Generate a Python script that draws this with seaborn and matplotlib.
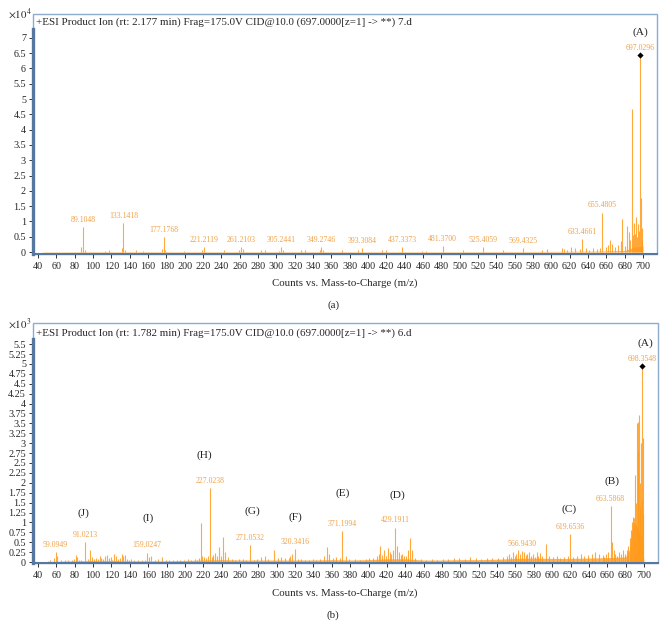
import matplotlib
matplotlib.use("Agg")
import matplotlib.pyplot as plt
from matplotlib.patches import Rectangle
import seaborn as sns

# ---- panel (a): intensities in units of 1e4 counts ----
a_label_mz = [89.1048, 133.1418, 177.1768, 221.2119, 261.2103, 305.2441, 349.2746,
              393.3084, 437.3373, 481.3700, 525.4059, 569.4325, 633.4661, 655.4805, 697.0296]
a_label_int = [0.83, 0.94, 0.48, 0.17, 0.15, 0.16, 0.15,
               0.13, 0.15, 0.20, 0.17, 0.13, 0.42, 1.29, 6.44]

a_minor_mz = [87.0, 91.1, 113.1, 117.0, 131.1, 135.1, 147.0, 155.0, 175.2, 179.1,
              199.0, 219.2, 243.1, 259.2, 263.2, 283.2, 287.2, 303.2, 307.2, 327.2,
              331.2, 347.3, 351.3, 371.3, 389.3, 415.3, 419.3, 459.3, 463.3, 503.4,
              547.4, 589.4, 595.4, 611.4, 613.4, 617.4, 621.4, 625.4, 631.4, 637.4,
              641.5, 645.5, 649.5, 653.5, 659.5, 661.5, 663.8, 666.5, 669.5, 672.5,
              675.5, 677.6, 680.5, 682.5, 684.8, 686.3, 688.0, 689.2, 690.0, 691.2,
              692.9, 694.0, 695.1, 696.0, 697.6, 698.4, 699.2]
a_minor_int = [0.15, 0.05, 0.04, 0.06, 0.12, 0.08, 0.05, 0.04, 0.10, 0.05,
               0.04, 0.05, 0.06, 0.05, 0.10, 0.06, 0.05, 0.04, 0.05, 0.05,
               0.08, 0.05, 0.06, 0.05, 0.05, 0.06, 0.07, 0.04, 0.04, 0.05,
               0.06, 0.06, 0.10, 0.12, 0.10, 0.08, 0.15, 0.12, 0.10, 0.14,
               0.08, 0.12, 0.10, 0.14, 0.15, 0.22, 0.40, 0.25, 0.18, 0.22,
               0.35, 1.08, 0.20, 0.85, 0.67, 0.40, 4.66, 0.55, 0.94, 0.60,
               1.15, 0.50, 0.90, 0.70, 1.77, 0.80, 0.40]

a_base_mz = [45, 100, 200, 300, 400, 500, 600, 650, 680, 690, 700]
a_base_int = [0.01, 0.015, 0.015, 0.015, 0.015, 0.015, 0.02, 0.03, 0.05, 0.15, 0.2]

a_letters = ["(A)"]
a_letter_mz = [697.0]
a_letter_y = [7.17]

# ---- panel (b): intensities in units of 1e3 counts ----
b_label_mz = [59.0949, 91.0213, 159.0247, 227.0238, 271.0532, 320.3416,
              371.1994, 429.1911, 566.9430, 619.6536, 663.5868, 698.3548]
b_label_int = [0.25, 0.51, 0.24, 1.87, 0.42, 0.32,
               0.78, 0.87, 0.27, 0.70, 1.41, 4.96]

b_minor_mz = [51, 53, 57, 61, 65, 69, 73, 77, 79, 81,
              83, 85, 87, 95, 97, 99, 101, 103, 105, 107,
              109, 111, 113, 115, 117, 119, 121, 123, 125, 127,
              129, 131, 133, 135, 137, 139, 141, 145, 149, 153,
              157, 161, 163, 167, 171, 175, 179, 183, 187, 191,
              195, 199, 203, 207, 211, 213, 215, 217, 219, 221,
              223, 225, 229, 231, 233, 235, 237, 239, 242, 244,
              247, 251, 255, 259, 263, 267, 275, 279, 283, 287,
              291, 297, 301, 305, 309, 313, 315, 317, 323, 327,
              331, 335, 339, 343, 347, 351, 355, 357, 361, 365,
              369, 375, 379, 385, 391, 397, 401, 405, 409, 411,
              413, 415, 417, 419, 421, 423, 425, 427, 431, 433,
              435, 437, 439, 441, 443, 445, 447, 451, 457, 463,
              469, 475, 481, 487, 493, 499, 505, 511, 517, 523,
              529, 535, 541, 547, 551, 553, 555, 557, 559, 561,
              563, 565, 569, 571, 573, 575, 577, 579, 581, 583,
              585, 587, 589, 593, 597, 601, 605, 609, 613, 617,
              623, 627, 631, 635, 639, 643, 647, 651, 655, 657,
              659, 661, 665, 667, 669, 671, 673, 675, 677, 679,
              681, 683, 685, 686, 687, 688, 689, 690, 691, 692,
              693, 694, 694.8, 695.5, 696, 697, 697.5, 699, 699.5]
b_minor_int = [0.03, 0.04, 0.10, 0.15, 0.05, 0.04, 0.05, 0.06, 0.08, 0.18,
               0.12, 0.05, 0.06, 0.08, 0.30, 0.12, 0.08, 0.10, 0.07, 0.15,
               0.10, 0.07, 0.16, 0.17, 0.09, 0.12, 0.06, 0.20, 0.15, 0.08,
               0.10, 0.20, 0.14, 0.18, 0.08, 0.06, 0.07, 0.05, 0.04, 0.05,
               0.06, 0.12, 0.15, 0.06, 0.07, 0.12, 0.05, 0.04, 0.04, 0.05,
               0.04, 0.05, 0.08, 0.06, 0.07, 0.06, 0.10, 0.98, 0.15, 0.12,
               0.10, 0.15, 0.12, 0.18, 0.22, 0.15, 0.37, 0.15, 0.63, 0.25,
               0.12, 0.08, 0.06, 0.08, 0.07, 0.06, 0.06, 0.08, 0.12, 0.16,
               0.08, 0.30, 0.10, 0.12, 0.09, 0.10, 0.15, 0.20, 0.08, 0.08,
               0.05, 0.06, 0.07, 0.06, 0.08, 0.15, 0.37, 0.20, 0.10, 0.12,
               0.09, 0.15, 0.08, 0.07, 0.06, 0.07, 0.10, 0.10, 0.15, 0.20,
               0.40, 0.18, 0.30, 0.15, 0.35, 0.25, 0.20, 0.30, 0.40, 0.25,
               0.18, 0.20, 0.15, 0.15, 0.30, 0.60, 0.30, 0.10, 0.07, 0.06,
               0.07, 0.06, 0.08, 0.07, 0.10, 0.10, 0.08, 0.12, 0.10, 0.08,
               0.10, 0.09, 0.10, 0.12, 0.15, 0.20, 0.12, 0.25, 0.15, 0.20,
               0.30, 0.20, 0.25, 0.18, 0.20, 0.25, 0.15, 0.20, 0.12, 0.25,
               0.15, 0.22, 0.15, 0.45, 0.15, 0.12, 0.15, 0.10, 0.12, 0.15,
               0.12, 0.15, 0.20, 0.15, 0.18, 0.20, 0.25, 0.20, 0.18, 0.12,
               0.20, 0.25, 0.50, 0.30, 0.20, 0.15, 0.25, 0.20, 0.30, 0.20,
               0.30, 0.40, 0.60, 0.80, 1.00, 1.14, 1.10, 2.20, 1.50, 3.50,
               3.54, 2.80, 3.71, 2.00, 1.40, 3.00, 1.60, 1.20, 3.13]

b_base_mz = [48, 60, 80, 100, 120, 140, 160, 180, 200,
             220, 240, 260, 280, 300, 320, 340, 360, 380, 400, 420, 440,
             460, 480, 500, 520, 540, 560, 580, 600, 620, 640, 660, 680,
             684, 686, 688, 690, 692, 694, 696, 698, 700]
b_base_int = [0.01, 0.02, 0.03, 0.04, 0.04, 0.03, 0.03, 0.03, 0.04,
              0.05, 0.06, 0.05, 0.05, 0.05, 0.05, 0.05, 0.06, 0.05, 0.06, 0.08, 0.08,
              0.05, 0.05, 0.06, 0.06, 0.07, 0.09, 0.10, 0.09, 0.09, 0.10, 0.11, 0.13,
              0.30, 0.60, 0.95, 1.00, 0.90, 0.80, 0.70, 0.60, 0.0]

b_letters = ["(A)", "(B)", "(C)", "(D)", "(E)", "(F)", "(G)", "(H)", "(I)", "(J)"]
b_letter_mz = [702, 665.6, 618, 431, 372, 320, 273, 221, 160, 89.4]
b_letter_y = [5.52, 2.05, 1.34, 1.69, 1.75, 1.14, 1.29, 2.70, 1.10, 1.24]

x_ticks = list(range(40, 701, 20))
a_yticks = [0, 0.5, 1, 1.5, 2, 2.5, 3, 3.5, 4, 4.5, 5, 5.5, 6, 6.5, 7]
b_yticks = [0, 0.25, 0.5, 0.75, 1, 1.25, 1.5, 1.75, 2, 2.25, 2.5, 2.75, 3, 3.25,
            3.5, 3.75, 4, 4.25, 4.5, 4.75, 5, 5.25, 5.5]

sns.set_style("ticks")
plt.rcParams["font.family"] = ["Liberation Serif", "DejaVu Serif"]
plt.rcParams["mathtext.fontset"] = "stix"

PEAK = "#ff9a1a"
LABEL = "#f0a248"
FRAME = "#8eaacd"
SPINE = "#56779f"
W, H = 667, 637


def draw_panel(ax, label_mz, label_int, minor_mz, minor_int, base_mz, base_int,
               letters, letter_mz, letter_y, yticks, ylim, spine_top):
    # noise floor
    ax.fill_between(base_mz, 0, base_int, color=PEAK, alpha=0.75, lw=0)
    ax.vlines(minor_mz, 0, minor_int, color=PEAK, lw=0.8, alpha=0.85)
    ax.vlines(label_mz, 0, label_int, color=PEAK, lw=0.8, alpha=0.85)

    for mz, h in zip(label_mz, label_int):
        ax.annotate(f"{mz:.4f}", (mz, h), xytext=(0, 2.2), textcoords="offset points",
                    ha="center", va="bottom", fontsize=5.6, color=LABEL)
    for t, mz, y in zip(letters, letter_mz, letter_y):
        ax.text(mz, y, t, ha="center", va="center", fontsize=8.2, color="#222222")

    # black diamond on the base peak
    top = max(range(len(label_int)), key=lambda i: label_int[i])
    sns.scatterplot(x=[label_mz[top]], y=[label_int[top]], marker="D", s=10,
                    color="black", ax=ax, zorder=5, linewidth=0)

    ax.set_xlim(34.55, 715.3)
    ax.set_ylim(*ylim)
    ax.set_xticks(x_ticks)
    ax.set_xticklabels([str(t) for t in x_ticks])
    ax.set_yticks(yticks)
    ax.set_yticklabels([f"{t:g}" for t in yticks])
    ax.tick_params(axis="both", labelsize=7.3, length=3, width=0.7, pad=2,
                   color="#333333", direction="out")
    ax.tick_params(axis="x", pad=3)

    for side in ["top", "right"]:
        ax.spines[side].set_visible(False)
    ax.spines["left"].set_color(SPINE)
    ax.spines["left"].set_linewidth(2.4)
    ax.spines["left"].set_bounds(ylim[0], spine_top)
    ax.spines["bottom"].set_color(SPINE)
    ax.spines["bottom"].set_linewidth(1.5)
    ax.add_patch(Rectangle((0, 0), 1, 1, transform=ax.transAxes, fill=False,
                           ec=FRAME, lw=1, clip_on=False, zorder=0))
    ax.set_xlabel("")
    ax.set_ylabel("")


fig = plt.figure(figsize=(W / 100, H / 100), dpi=100)

ax_a = fig.add_axes([33 / W, 1 - 254 / H, 624 / W, 240 / H])
draw_panel(ax_a, a_label_mz, a_label_int, a_minor_mz, a_minor_int, a_base_mz, a_base_int,
           a_letters, a_letter_mz, a_letter_y, a_yticks, (-0.065, 7.78), 7.29)

ax_b = fig.add_axes([33 / W, 1 - 563 / H, 625 / W, 240 / H])
draw_panel(ax_b, b_label_mz, b_label_int, b_minor_mz, b_minor_int, b_base_mz, b_base_int,
           b_letters, b_letter_mz, b_letter_y, b_yticks, (-0.025, 6.035), 5.64)

# headers, multipliers and axis titles
fig.text(36 / W, 1 - 22 / H,
         "+ESI Product Ion (rt: 2.177 min) Frag=175.0V CID@10.0 (697.0000[z=1] -> **) 7.d",
         fontsize=7.9, va="center", ha="left")
fig.text(36 / W, 1 - 333 / H,
         "+ESI Product Ion (rt: 1.782 min) Frag=175.0V CID@10.0 (697.0000[z=1] -> **) 6.d",
         fontsize=7.9, va="center", ha="left")
fig.text(8 / W, 1 - 14 / H, r"$\times10^{4}$", fontsize=7.8, va="center", ha="left")
fig.text(8 / W, 1 - 324 / H, r"$\times10^{3}$", fontsize=7.8, va="center", ha="left")
fig.text(345 / W, 1 - 283 / H, "Counts vs. Mass-to-Charge (m/z)", fontsize=7.8,
         ha="center", va="center")
fig.text(345 / W, 1 - 593 / H, "Counts vs. Mass-to-Charge (m/z)", fontsize=7.8,
         ha="center", va="center")
fig.text(333 / W, 1 - 305 / H, "(a)", fontsize=7.8, ha="center", va="center")
fig.text(333 / W, 1 - 615 / H, "(b)", fontsize=7.8, ha="center", va="center")

fig.savefig("out.png", dpi=100)
plt.close(fig)
